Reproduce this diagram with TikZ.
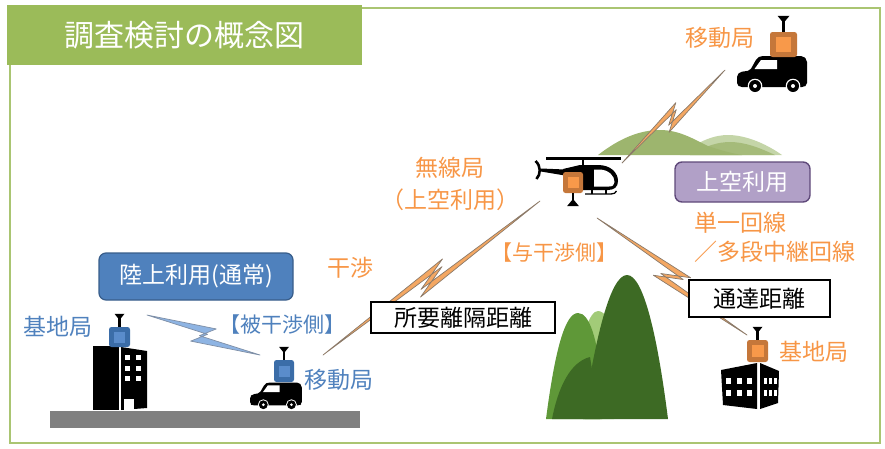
\documentclass[tikz,border=0pt]{standalone}
\usepackage{fontspec}
\newfontfamily\jp{Noto Sans CJK JP}
\usetikzlibrary{calc}
\definecolor{tgreen}{HTML}{9BBB59}
\definecolor{jorange}{HTML}{F79646}
\definecolor{jblue}{HTML}{4F81BD}
\definecolor{jbluedark}{HTML}{385D8A}
\definecolor{lav}{HTML}{B1A0C7}
\definecolor{lavdark}{HTML}{5F497A}
\definecolor{boxor}{HTML}{C5773A}
\definecolor{boxorin}{HTML}{F8994A}
\definecolor{boxbl}{HTML}{3B6DA8}
\definecolor{boxblin}{HTML}{5A8CCB}
\definecolor{boltor}{HTML}{F4A762}
\definecolor{boltline}{HTML}{8A7A6A}
\definecolor{boltbl}{HTML}{8EB4E3}
\definecolor{boltblline}{HTML}{7F8FA6}
\definecolor{mtdark}{HTML}{3D6A24}
\definecolor{mtmid}{HTML}{5F9838}
\definecolor{mtlight}{HTML}{A2CB78}
\definecolor{hill}{HTML}{9DB56E}
\definecolor{hilllt}{HTML}{C4D5A8}

% zig-zag radio link: #1 start, #2 end, #3 style, #4 fraction of the zig centre,
% #5 half length of the zig, #6 side offset, #7 strip width
\newcommand\zbolt[7]{%
  \pgfmathsetmacro\zbS{#5}%
  \pgfmathsetmacro\zbSi{#5-0.8*#7}%
  \pgfmathsetmacro\zbHo{#6+#7/2}%
  \pgfmathsetmacro\zbHi{#6-#7/2}%
  \coordinate (zbM) at ($(#1)!#4!(#2)$);
  \draw[#3] (#1)
    -- ($(zbM)!\zbS pt!(#2)!\zbHo pt!90:(#2)$)
    -- ($(zbM)!-\zbSi pt!(#2)!\zbHi pt!-90:(#2)$)
    -- (#2)
    -- ($(zbM)!-\zbS pt!(#2)!\zbHo pt!-90:(#2)$)
    -- ($(zbM)!\zbSi pt!(#2)!\zbHi pt!90:(#2)$)
    -- cycle;
}

\tikzset{
  lbl/.style={font=\jp\fontsize{23}{28}\selectfont, inner sep=0pt},
  orlbl/.style={lbl, text=jorange},
  bllbl/.style={lbl, text=jblue},
  tagbox/.style={lbl, draw=black, line width=1.4, fill=white, text=black},
  radio/.style={rounded corners=2.5, fill=#1, inner sep=0pt},
  radioin/.style={fill=#1, inner sep=0pt},
  orbolt/.style={fill=boltor, draw=boltline, line width=0.7, line join=round},
  blbolt/.style={fill=boltbl, draw=boltblline, line width=0.7, line join=round},
  car/.pic={
    \fill[black, rounded corners=2] (0,29) -- (0,19) -- (3,16) -- (13,14.5)
      -- (20,2) -- (24,0) -- (66,0) -- (70,4) -- (70,29) -- (67,31) -- (3,31) -- cycle;
    \fill[white] (24,4) -- (40,4) -- (40,13) -- (17.5,13) -- cycle;
    \foreach \wx in {18,56} {
      \fill[white] (\wx,30) circle (7.3);
      \fill[black] (\wx,30) circle (6);
      \fill[white] (\wx,30) circle (2);
    }
  }
}

\begin{document}
\begin{tikzpicture}[x=1pt,y=-1pt]
\useasboundingbox (0,0) rectangle (885,448);

% frame and title
\draw[tgreen!85, line width=2.5] (10,8) rectangle (880,443);
\node[fill=tgreen, minimum width=355, minimum height=60, inner sep=0pt,
      font=\jp\fontsize{30}{36}\selectfont, text=white] (title) at (184.5,35) {調査検討の概念図};

% distant hills behind the helicopter
\fill[hilllt] (680,155) .. controls (700,140) and (715,135) .. (728,135)
  .. controls (745,135) and (765,143) .. (782,155) -- cycle;
\fill[hill!80!hilllt] (690,155) .. controls (705,146) and (718,142) .. (730,142)
  .. controls (745,142) and (760,148) .. (775,155) -- cycle;
\fill[hill] (598,155) .. controls (620,138) and (640,130) .. (660,130)
  .. controls (680,130) and (695,140) .. (708,146) .. controls (720,150) and (730,153) .. (742,155) -- cycle;

% mountains in the middle
\fill[mtlight] (585,419) -- (585,330) .. controls (590,316) and (594,311) .. (598,311)
  .. controls (604,311) and (610,320) .. (614,330) -- (614,419) -- cycle;
\fill[mtmid] (546,419) .. controls (555,350) and (565,313) .. (578,313)
  .. controls (590,313) and (597,340) .. (602,380) -- (602,419) -- cycle;
\fill[mtdark] (552,419) .. controls (558,388) and (570,362) .. (590,357) -- (600,419) -- cycle;
\fill[mtdark] (583,419) .. controls (595,340) and (610,275) .. (627,275)
  .. controls (644,275) and (658,340) .. (668,419) -- cycle;

% ground
\fill[black!50] (50,411) rectangle (360,428);

% link end points
\coordinate (bsL) at (147,315);
\coordinate (msL) at (260,355);
\coordinate (msLo) at (323,355);
\coordinate (heliLo) at (540,201);
\coordinate (heliUp) at (622,163);
\coordinate (msUp) at (725,70);
\coordinate (heliDn) at (597,218);
\coordinate (bsR) at (747,335);

% radio links
\zbolt{bsL}{msL}{blbolt}{0.5}{10}{6}{8}
\zbolt{msLo}{heliLo}{orbolt}{0.5}{20}{6.2}{6}
\zbolt{heliUp}{msUp}{orbolt}{0.49}{12.5}{6}{5.5}
\zbolt{heliDn}{bsR}{orbolt}{0.5}{15.5}{7.5}{6}

% left office building
\fill (93,346) rectangle (119,410);
\fill (121,347) -- (147,351) -- (147,408) -- (121,410) -- cycle;
\foreach \wy in {355,365.5,376} {
  \fill[white] (125,\wy) rectangle ++(5,5);
  \fill[white] (135.5,\wy) rectangle ++(5,5);
}
\fill[white] (123.5,399) rectangle (134,410);
\node[radio=boxbl, minimum width=21, minimum height=20] (rBsL) at (119.5,337) {};
\node[radioin=boxblin, minimum size=11] at (rBsL) {};
\draw[line width=2.4] (rBsL.north) -- ++(0,-9);
\fill (rBsL.north) ++(-5,-13) -- ++(10,0) -- ++(-4,5) -- ++(-2,0) -- cycle;

% car on the road
\pic[scale=0.74] at (250,382.5) {car};
\node[radio=boxbl, minimum width=20, minimum height=22] (rMsL) at (284,371) {};
\node[radioin=boxblin, minimum size=11] at (rMsL) {};
\draw[line width=2.2] (rMsL.north) -- ++(0,-9);
\fill (rMsL.north) ++(-5,-13) -- ++(10,0) -- ++(-4,5) -- ++(-2,0) -- cycle;

% car at the top right
\pic at (737,56) {car};
\node[radio=boxor, minimum width=27, minimum height=25] (rMsU) at (783.5,44.5) {};
\node[radioin=boxorin, minimum size=15] at (rMsU) {};
\draw[line width=2.6] (rMsU.north) -- ++(0,-11);
\fill (rMsU.north) ++(-6,-16) -- ++(12,0) -- ++(-5,6) -- ++(-2,0) -- cycle;

% helicopter
\fill (546,156.8) rectangle (621,159.6);
\draw[line width=2] (583,158) -- (583,166);
\fill (565,169.5) -- (541,168.5) -- (541,171.5) -- (565,175.5) -- cycle;
\draw[line width=2.6] (535.5,161) .. controls (541,166) and (541,174) .. (536.5,179);
\fill (563,169) -- (580,165) -- (598,165) .. controls (611,165) and (618,173) .. (618,181)
  .. controls (618,187) and (614,190) .. (608,190) -- (570,190) -- cycle;
\fill[white] (594,169.5) -- (600,169.5) .. controls (609,170) and (614.5,176) .. (614.5,182)
  .. controls (614.5,185) and (612.5,186.5) .. (609,186.5) -- (594,186.5) -- cycle;
\draw[line width=1.3] (585,194) -- (611,194) .. controls (614,194) and (615.5,193) .. (616.5,191);
\draw[line width=1.3] (592,190) -- (592,194) (606,190) -- (606,194);
\node[radio=boxor, minimum width=20, minimum height=21] (rHeli) at (573,182.5) {};
\node[radioin=boxorin, minimum size=11] at (rHeli) {};
\draw[line width=2.2] (rHeli.south) -- ++(0,8);
\fill (rHeli.south) ++(-6,13) -- ++(12,0) -- ++(-5,-6) -- ++(-2,0) -- cycle;

% office building at the bottom right
\fill (721,370) -- (757,363) -- (757,409) -- (723,405) -- cycle;
\fill (760,363) -- (779,371) -- (778,403) -- (760,409) -- cycle;
\foreach \wy in {377.5,389.5} {
  \foreach \wx in {726,736.5,747} \fill[white] (\wx,\wy) rectangle ++(5,6);
  \foreach \wx in {763.5,768.5,773.5} \fill[white] (\wx,\wy) rectangle ++(3,6);
}
\node[radio=boxor, minimum width=21, minimum height=22] (rBsR) at (757.5,351) {};
\node[radioin=boxorin, minimum size=12] at (rBsR) {};
\draw[line width=2.4] (rBsR.north) -- ++(0,-9);
\fill (rBsR.north) ++(-5,-13) -- ++(10,0) -- ++(-4,5) -- ++(-2,0) -- cycle;

% labels
\node[orlbl] (tMsU) at (720,38) {移動局};
\node[orlbl] (tRadio) at (450,168) {無線局};
\node[orlbl] (tRadio2) at (450,200) {（上空利用）};
\node[orlbl] (tIntf) at (350,268) {干渉};
\node[orlbl, font=\jp\fontsize{21}{26}\selectfont] (tGive) at (554,253) {【与干渉側】};
\node[bllbl] (tBsL) at (58,327) {基地局};
\node[bllbl, font=\jp\fontsize{21}{26}\selectfont] (tRecv) at (282,325) {【被干渉側】};
\node[bllbl] (tMsL) at (339,380) {移動局};
\node[orlbl] (tBsR) at (814,352) {基地局};
\node[orlbl, anchor=west, align=left, font=\jp\fontsize{23}{29}\selectfont] (tLine) at (694,237.5)
  {単一回線\\ ／多段中継回線};

% boxed labels
\node[lbl, fill=jblue, draw=jbluedark, line width=1.2, rounded corners=7, text=white,
      minimum width=194, minimum height=47] (bLand) at (196,276.5) {陸上利用(通常)};
\node[lbl, fill=lav, draw=lavdark, line width=1.4, rounded corners=7, text=white,
      minimum width=135, minimum height=40] (bSky) at (742.5,182) {上空利用};
\node[tagbox, minimum width=184, minimum height=31] (bSep) at (463,317.5) {所要離隔距離};
\node[tagbox, minimum width=141, minimum height=37] (bReach) at (759.5,298.5) {通達距離};
\end{tikzpicture}
\end{document}
